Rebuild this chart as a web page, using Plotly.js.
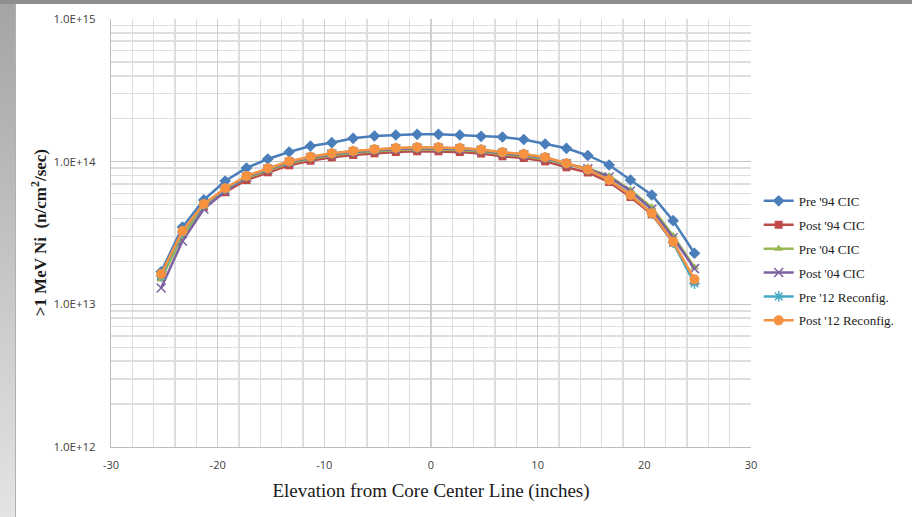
<!DOCTYPE html>
<html><head><meta charset="utf-8">
<script src="https://cdn.plot.ly/plotly-3.0.1.min.js"></script>
<style>
body{margin:0;width:912px;height:517px;overflow:hidden;position:relative;}
#frame{position:absolute;left:0;top:0;width:912px;height:517px;background:linear-gradient(to bottom,#a4a4a4,#e4e4e4);}
#topbar{position:absolute;left:0;top:0;width:912px;height:4px;background:#8e8e8e;}
#white{position:absolute;left:16px;top:4px;width:896px;height:513px;background:#fff;box-shadow:-1px 0 0 #b0b0b0;}
#chart{position:absolute;left:0;top:0;width:912px;height:517px;}
</style></head>
<body>
<div id="frame"></div><div id="topbar"></div><div id="white"></div>
<div id="chart"></div>
<script>
const elevation = [-25.3,-23.3,-21.3,-19.3,-17.3,-15.3,-13.3,-11.3,-9.3,-7.3,-5.3,-3.3,-1.3,0.7,2.7,4.7,6.7,8.7,10.7,12.7,14.7,16.7,18.7,20.7,22.7,24.7];
// flux values in units of 1e13 n/cm2/sec
const pre94  = [1.69,3.48,5.39,7.32,9.03,10.44,11.69,12.88,13.58,14.58,15.13,15.38,15.55,15.55,15.38,15.06,14.89,14.30,13.30,12.41,11.05,9.48,7.44,5.84,3.86,2.28];
const post94 = [1.55,3.12,4.81,6.10,7.44,8.42,9.43,10.15,10.73,11.13,11.44,11.68,11.82,11.82,11.68,11.40,10.90,10.61,10.05,9.13,8.40,7.20,5.65,4.28,2.71,1.45];
const pre04  = [1.50,3.01,4.85,6.30,7.69,8.70,9.74,10.48,11.08,11.50,11.82,12.07,12.21,12.21,12.07,11.78,11.26,10.96,10.39,9.58,8.95,7.94,6.33,4.79,3.03,1.82];
const post04 = [1.30,2.78,4.66,6.20,7.81,8.85,9.90,10.66,11.27,11.69,12.01,12.27,12.41,12.41,12.27,11.98,11.44,11.14,10.56,9.65,8.90,7.81,6.23,4.64,2.93,1.78];
const pre12  = [1.58,3.22,5.00,6.45,7.88,8.93,10.00,10.78,11.40,11.83,12.16,12.42,12.56,12.56,12.42,12.13,11.60,11.29,10.70,9.72,8.80,7.45,5.86,4.35,2.71,1.40];
const post12 = [1.63,3.27,5.05,6.51,7.94,8.99,10.06,10.83,11.45,11.88,12.21,12.47,12.61,12.61,12.47,12.17,11.63,11.32,10.73,9.74,8.81,7.44,5.84,4.35,2.75,1.50];
const seriesNames = ["Pre '94 CIC","Post '94 CIC","Pre '04 CIC","Post '04 CIC","Pre '12 Reconfig.","Post '12 Reconfig."];
const yTickVals = [1e12,1e13,1e14,1e15];
const yTickText = ["1.0E+12","1.0E+13","1.0E+14","1.0E+15"];
const xTickVals = [-30,-20,-10,0,10,20,30];
const xTickText = ["-30","-20","-10","0","10","20","30"];
const yTitle = '>1 MeV Ni  (n/cm<sup>2</sup>/sec)';
const xTitle = 'Elevation from Core Center Line (inches)';

const styles = [
  {color:'#4A7EBB', symbol:'diamond', size:9},
  {color:'#BE4B48', symbol:'square', size:8},
  {color:'#98B954', symbol:'triangle-up', size:8},
  {color:'#7D60A0', symbol:'x-thin-open', size:9},
  {color:'#46AAC5', symbol:'asterisk-open', size:9},
  {color:'#F69240', symbol:'circle', size:10}
];
const data = [pre94,post94,pre04,post04,pre12,post12];
const traces = data.map((vals,i)=>({
  x: elevation,
  y: vals.map(v=>v*1e13),
  name: seriesNames[i],
  legendgroup: 'g'+i,
  type:'scatter', mode:'lines+markers',
  line:{color:styles[i].color, width:2.5},
  marker:{color:styles[i].color, symbol:styles[i].symbol, size:styles[i].size,
          line:{color:styles[i].color, width: (styles[i].symbol.indexOf('open')>=0?1.5:0)}}
}));

const layout = {
  width:912, height:517,
  paper_bgcolor:'rgba(0,0,0,0)', plot_bgcolor:'rgba(0,0,0,0)',
  margin:{l:111, r:157, t:19, b:70},
  showlegend:true,
  legend:{x:1.012, y:0.61, xanchor:'left', yanchor:'top', tracegroupgap:4,
          font:{family:'Liberation Serif, serif', size:13, color:'#1a1a1a'}, bgcolor:'rgba(0,0,0,0)'},
  xaxis:{range:[-30,30], tickmode:'array', tickvals:xTickVals, ticktext:xTickText, showgrid:true, gridcolor:'#cfcfcf', gridwidth:1.5,
         minor:{dtick:2, showgrid:true, gridcolor:'#dedede', gridwidth:1.5},
         zeroline:false, showline:true, linecolor:'#bdbdbd', linewidth:1, ticks:'', ticklabelstandoff:8,
         tickfont:{family:'Open Sans, sans-serif', size:11, color:'#404040'},
         title:{text:xTitle, font:{family:'Liberation Serif, serif', size:19, color:'#1a1a1a'}, standoff:12}},
  yaxis:{type:'log', range:[12,15], tickmode:'array', tickvals:yTickVals, ticktext:yTickText,
         showgrid:true, gridcolor:'#c4c4c4', gridwidth:1.5,
         minor:{dtick:'D1', showgrid:true, gridcolor:'#dedede', gridwidth:1.5},
         zeroline:false, showline:true, linecolor:'#bdbdbd', linewidth:1, ticks:'',
         tickfont:{family:'Open Sans, sans-serif', size:11.5, color:'#404040'}, ticklabelstandoff:12},
  annotations:[{text:yTitle, xref:'paper', yref:'paper', x:-0.112, y:0.5, xanchor:'center', yanchor:'middle',
                textangle:-90, showarrow:false,
                font:{family:'Liberation Serif, serif', size:17, color:'#1a1a1a', weight:'bold'}}]
};
Plotly.newPlot('chart', traces, layout, {displayModeBar:false, staticPlot:true});
</script>
</body></html>
